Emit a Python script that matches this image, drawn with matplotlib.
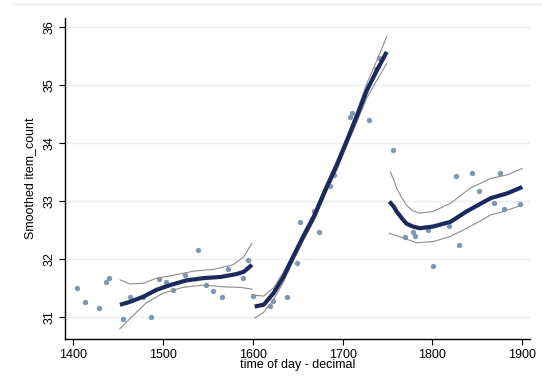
import matplotlib
matplotlib.use("Agg")
import matplotlib.pyplot as plt
from matplotlib.lines import Line2D

plt.rcParams['font.family'] = ['Liberation Sans', 'DejaVu Sans']

# Scatter data (time of day, item_count)
obs_x = [1404, 1413, 1429, 1437, 1440, 1455, 1463, 1478, 1487, 1495, 1503, 1511,
         1524, 1539, 1548, 1556, 1566, 1572, 1589, 1595, 1600,
         1619, 1622, 1638, 1649, 1652, 1668, 1674, 1686, 1690, 1708, 1710, 1729,
         1737, 1740,
         1756, 1769, 1778, 1780, 1795, 1801, 1818, 1826, 1829, 1844, 1852, 1868,
         1875, 1880, 1897]
obs_y = [31.50, 31.26, 31.16, 31.60, 31.68, 30.97, 31.35, 31.34, 31.00, 31.65, 31.60, 31.46,
         31.73, 32.16, 31.55, 31.44, 31.35, 31.82, 31.67, 31.99, 31.37,
         31.19, 31.28, 31.35, 31.93, 32.64, 32.83, 32.46, 33.25, 33.44, 34.44, 34.52, 34.40,
         35.27, 35.46,
         33.88, 32.38, 32.46, 32.40, 32.50, 31.88, 32.56, 33.43, 32.24, 33.48, 33.18, 32.96,
         33.48, 32.86, 32.94]

# Smoothed fits and confidence bands, three segments
seg1_x = [1452, 1463, 1478, 1493, 1508, 1526, 1545, 1564, 1582, 1590, 1599]
seg1_fit = [31.21, 31.26, 31.35, 31.47, 31.55, 31.63, 31.67, 31.69, 31.74, 31.78, 31.90]
seg1_up_x = [1452, 1463, 1478, 1493, 1512, 1534, 1556, 1578, 1590, 1599]
seg1_up = [31.64, 31.57, 31.58, 31.67, 31.72, 31.79, 31.82, 31.90, 32.04, 32.27]
seg1_lo_x = [1452, 1467, 1481, 1500, 1522, 1545, 1567, 1586, 1599]
seg1_lo = [30.80, 31.03, 31.24, 31.41, 31.51, 31.55, 31.52, 31.51, 31.48]

seg2_x = [1602, 1612, 1623, 1634, 1645, 1656, 1668, 1681, 1693, 1705, 1716, 1727, 1738, 1749]
seg2_fit = [31.18, 31.21, 31.41, 31.69, 32.04, 32.38, 32.73, 33.20, 33.60, 34.05, 34.47, 34.91, 35.25, 35.57]
seg2_up_x = [1599, 1612, 1623, 1634, 1645, 1656, 1668, 1681, 1693, 1705, 1716, 1727, 1738, 1749]
seg2_up = [31.38, 31.36, 31.50, 31.77, 32.10, 32.45, 32.80, 33.27, 33.68, 34.12, 34.56, 35.03, 35.42, 35.83]
seg2_lo_x = [1602, 1612, 1623, 1634, 1645, 1656, 1668, 1681, 1693, 1705, 1716, 1727, 1738, 1749]
seg2_lo = [30.98, 31.08, 31.30, 31.60, 31.97, 32.31, 32.66, 33.12, 33.52, 33.97, 34.37, 34.78, 35.08, 35.37]

seg3_x = [1752, 1757, 1760, 1766, 1771, 1778, 1786, 1801, 1820, 1838, 1865, 1883, 1900]
seg3_fit = [32.99, 32.90, 32.82, 32.70, 32.61, 32.56, 32.53, 32.56, 32.64, 32.82, 33.05, 33.13, 33.24]
seg3_up_x = [1753, 1757, 1760, 1766, 1771, 1778, 1786, 1801, 1820, 1842, 1865, 1883, 1900]
seg3_up = [33.50, 33.36, 33.22, 33.05, 32.93, 32.83, 32.79, 32.82, 32.96, 33.22, 33.39, 33.45, 33.56]
seg3_lo_x = [1752, 1768, 1782, 1801, 1820, 1842, 1865, 1883, 1900]
seg3_lo = [32.44, 32.36, 32.28, 32.30, 32.39, 32.56, 32.76, 32.84, 32.93]

xticks = [1400, 1500, 1600, 1700, 1800, 1900]
yticks = [31, 32, 33, 34, 35, 36]

fig = plt.figure(figsize=(5.42, 3.87), dpi=100)
ax = fig.add_axes([65/542, 1-339/387, (530-65)/542, (339-18)/387])

ax.set_xlim(1390.8, 1908.6)
ax.set_ylim(30.62, 36.155)

for y in yticks:
    ax.axhline(y, color='#e8eef2', lw=1.0, zorder=0)

ci_col = '#8c8c8c'
fit_col = '#1a2a5c'
pt_col = '#7f98b2'

ax.scatter(obs_x, obs_y, s=15, color=pt_col, marker='o', linewidths=0, zorder=2)

for xs, ys in [(seg1_up_x, seg1_up), (seg1_lo_x, seg1_lo),
               (seg2_up_x, seg2_up), (seg2_lo_x, seg2_lo),
               (seg3_up_x, seg3_up), (seg3_lo_x, seg3_lo)]:
    ax.plot(xs, ys, color=ci_col, lw=0.8, zorder=3)

for xs, ys in [(seg1_x, seg1_fit), (seg2_x, seg2_fit), (seg3_x, seg3_fit)]:
    ax.plot(xs, ys, color=fit_col, lw=3.0, solid_capstyle='butt', solid_joinstyle='round', zorder=4)

ax.spines['top'].set_visible(False)
ax.spines['right'].set_visible(False)
ax.spines['left'].set_linewidth(1.0)
ax.spines['bottom'].set_linewidth(1.0)

ax.set_xticks(xticks)
ax.set_yticks(yticks)
ax.set_xticklabels([str(v) for v in xticks])
ax.set_yticklabels([str(v) for v in yticks], rotation=90, va='center')
ax.tick_params(axis='both', direction='out', length=4, width=0.8, labelsize=9, colors='black', pad=3)

ax.set_xlabel('time of day - decimal', fontsize=9, labelpad=-1)
ax.set_ylabel('Smoothed item_count', fontsize=9, labelpad=5)

# faint outer region border line at top
fig.add_artist(Line2D([13/542, 1.0], [1-3.5/387, 1-3.5/387], color='#e6ecf0', lw=1.0,
                      transform=fig.transFigure))

fig.savefig('out.png', dpi=100)
